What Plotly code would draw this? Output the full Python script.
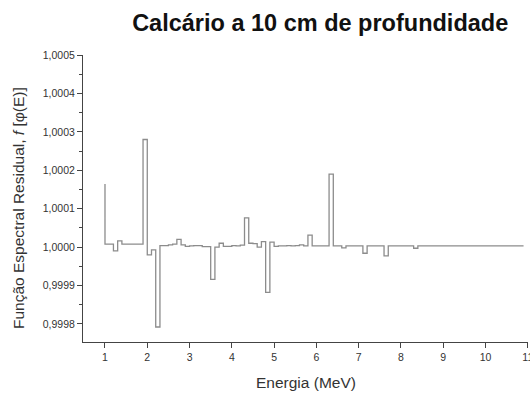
import numpy as np
import plotly.graph_objects as go

# Bin left edges (MeV) and residual spectral function values
energia = [round(1.0 + 0.1 * i, 1) for i in range(99)]  # 1.0 ... 10.8
valores = [
    1.000008, 1.000008, 0.999990, 1.000016, 1.000008, 1.000008, 1.000008, 1.000008, 1.000008, 1.000280,  # 1.0-1.9
    0.999980, 0.999993, 0.999792, 1.000004, 1.000004, 1.000006, 1.000008, 1.000020, 1.000006, 1.000002,  # 2.0-2.9
    1.000003, 1.000004, 1.000004, 1.000001, 1.000001, 0.999916, 1.000000, 1.000010, 1.000002, 1.000002,  # 3.0-3.9
    1.000004, 1.000003, 1.000005, 1.000076, 1.000010, 1.000009, 1.000000, 1.000014, 0.999882, 1.000013,  # 4.0-4.9
    1.000002, 1.000003, 1.000003, 1.000004, 1.000003, 1.000004, 1.000006, 1.000003, 1.000031, 1.000003,  # 5.0-5.9
    1.000003, 1.000003, 1.000003, 1.000190, 1.000003, 1.000003, 0.999998, 1.000003, 1.000003, 1.000003,  # 6.0-6.9
    1.000003, 0.999984, 1.000003, 1.000003, 1.000003, 1.000003, 0.999977, 1.000003, 1.000003, 1.000003,  # 7.0-7.9
    1.000003, 1.000003, 1.000003, 0.999997, 1.000003, 1.000003, 1.000003, 1.000003, 1.000003, 1.000003,  # 8.0-8.9
    1.000003, 1.000003, 1.000003, 1.000003, 1.000003, 1.000003, 1.000003, 1.000003, 1.000003, 1.000003,  # 9.0-9.9
    1.000003, 1.000003, 1.000003, 1.000003, 1.000003, 1.000003, 1.000003, 1.000003, 1.000003,            # 10.0-10.8
]
valor_inicial = 1.000164  # spike at E = 1 MeV
energia_final = 10.9

x_vals = [1.0] + energia + [energia_final]
y_vals = [valor_inicial] + valores + [valores[-1]]

y_ticks = [0.9998, 0.9999, 1.0000, 1.0001, 1.0002, 1.0003, 1.0004, 1.0005]
y_ticklabels = ["0,9998", "0,9999", "1,0000", "1,0001", "1,0002", "1,0003", "1,0004", "1,0005"]
x_ticks = [1, 2, 3, 4, 5, 6, 7, 8, 9, 10, 11]

fig = go.Figure()
fig.add_trace(go.Scatter(
    x=x_vals, y=y_vals, mode="lines", line_shape="hv",
    line=dict(color="#8c8c8c", width=1.3), showlegend=False, hoverinfo="skip"
))

font_family = "Liberation Sans, Arial, sans-serif"
fig.update_layout(
    width=530, height=396,
    margin=dict(l=83, r=2, t=55, b=54),
    paper_bgcolor="white", plot_bgcolor="white",
    font=dict(family=font_family, color="#333333"),
    title=dict(text="<b>Calcário a 10 cm de profundidade</b>",
               font=dict(size=23.5, color="#111111", family=font_family),
               xref="paper", x=0.533, xanchor="center",
               yref="container", y=1 - 23 / 396, yanchor="middle"),
    xaxis=dict(range=[0.48, 11.005], tickmode="array", tickvals=x_ticks,
               ticktext=[str(v) for v in x_ticks], ticklabeloverflow="allow", automargin=False,
               showgrid=False, zeroline=False, showline=True, linecolor="#444444", linewidth=1,
               ticks="outside", ticklen=5, tickcolor="#444444", tickwidth=1,
               tickfont=dict(size=10.5, color="#333333")),
    yaxis=dict(range=[0.999753, 1.0005], tickmode="array", tickvals=y_ticks,
               ticktext=y_ticklabels, automargin=False,
               showgrid=False, zeroline=False, showline=True, linecolor="#444444", linewidth=1,
               ticks="outside", ticklen=5, tickcolor="#444444", tickwidth=1,
               tickfont=dict(size=10.5, color="#333333"),
               minor=dict(ticks="outside", ticklen=3, tickcolor="#444444", dtick=0.00005,
                          tick0=0.99975, showgrid=False)),
    annotations=[
        dict(text="Função Espectral Residual, <i>f</i> [φ(E)]",
             xref="paper", yref="paper", x=(18 - 83) / 445, y=(342 - 208) / 287,
             xanchor="center", yanchor="middle", textangle=-90, showarrow=False,
             font=dict(size=15.5, color="#333333", family=font_family)),
        dict(text="Energia (MeV)",
             xref="paper", yref="paper", x=0.5, y=(342 - 382) / 287,
             xanchor="center", yanchor="middle", showarrow=False,
             font=dict(size=15.5, color="#333333", family=font_family)),
    ],
)

fig.write_html("out.html")
